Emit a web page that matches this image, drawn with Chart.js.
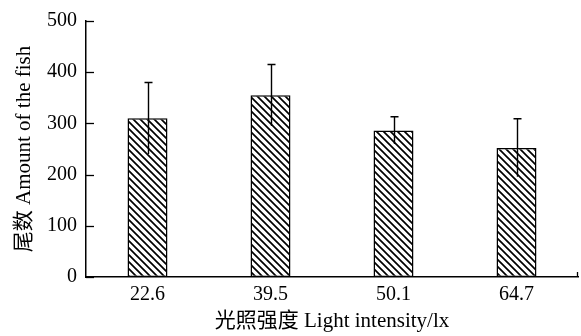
<!DOCTYPE html>
<html>
<head>
<meta charset="utf-8">
<script src="https://cdn.jsdelivr.net/npm/chart.js@4/dist/chart.umd.min.js"></script>
<style>
  html, body { margin: 0; padding: 0; background: #fff; }
  #wrap { width: 581px; height: 336px; }
</style>
</head>
<body>
<div id="wrap"><canvas id="fish"></canvas></div>
<script>
const lightLevels = ["22.6", "39.5", "50.1", "64.7"];
const fishCount = [310, 355, 286, 252];
const errLow = [240, 295, 260, 196];
const errHigh = [380, 415, 313, 309];
const yTicks = [0, 100, 200, 300, 400, 500];

const serif = "'Liberation Serif', 'Times New Roman', 'Noto Sans CJK SC', serif";

// hatch fill: backslash diagonals
function hatch() {
  const c = document.createElement("canvas");
  c.width = 7; c.height = 7;
  const g = c.getContext("2d");
  g.fillStyle = "#fff";
  g.fillRect(0, 0, 7, 7);
  g.strokeStyle = "#000";
  g.lineWidth = 1.7;
  g.beginPath();
  g.moveTo(-1, -1); g.lineTo(8, 8);
  g.moveTo(-1, 6); g.lineTo(1, 8);
  g.moveTo(6, -1); g.lineTo(8, 1);
  g.stroke();
  return g.createPattern(c, "repeat");
}

const extras = {
  id: "extras",
  afterDatasetsDraw(chart) {
    const ctx = chart.ctx;
    const x = chart.scales.x, y = chart.scales.y;
    ctx.save();
    ctx.strokeStyle = "#000";
    ctx.lineWidth = 1.3;
    // inward y ticks
    yTicks.forEach(v => {
      const py = Math.round(y.getPixelForValue(v)) + 0.5;
      ctx.beginPath();
      ctx.moveTo(x.left, py);
      ctx.lineTo(x.left + 8, py);
      ctx.stroke();
    });
    // little tick at right end of x axis
    ctx.beginPath();
    ctx.moveTo(x.right - 0.5, y.bottom);
    ctx.lineTo(x.right - 0.5, y.bottom - 5);
    ctx.stroke();
    // error bars (cap on top only)
    ctx.lineWidth = 1.4;
    lightLevels.forEach((lab, i) => {
      const px = Math.round(x.getPixelForValue(i)) + 0.5;
      const top = y.getPixelForValue(errHigh[i]);
      const bot = y.getPixelForValue(errLow[i]);
      ctx.beginPath();
      ctx.moveTo(px, bot);
      ctx.lineTo(px, top);
      ctx.moveTo(px - 4, top);
      ctx.lineTo(px + 4, top);
      ctx.stroke();
    });
    ctx.restore();
  }
};

new Chart(document.getElementById("fish"), {
  type: "bar",
  data: {
    labels: lightLevels,
    datasets: [{
      data: fishCount,
      backgroundColor: hatch(),
      borderColor: "#000",
      borderWidth: 1.5,
      borderSkipped: false,
      barPercentage: 0.325,
      categoryPercentage: 1
    }]
  },
  options: {
    responsive: true,
    maintainAspectRatio: false,
    animation: false,
    layout: { padding: { top: 19, right: 3, left: 0, bottom: 0 } },
    plugins: { legend: { display: false }, tooltip: { enabled: false } },
    scales: {
      x: {
        grid: { display: false, drawTicks: false },
        border: { color: "#000", width: 1.5 },
        ticks: { color: "#000", padding: 6, font: { family: serif, size: 20 } },
        title: {
          display: true,
          text: "光照强度 Light intensity/lx",
          color: "#000",
          font: { family: serif, size: 21 },
          padding: { top: 0, bottom: 2 }
        },
        afterFit(s) { s.height = 59; }
      },
      y: {
        min: 0, max: 500,
        grid: { display: false, drawTicks: false },
        border: { color: "#000", width: 1.5 },
        afterBuildTicks(s) { s.ticks = yTicks.map(v => ({ value: v })); },
        ticks: { color: "#000", padding: 9, font: { family: serif, size: 20 } },
        title: {
          display: true,
          text: "尾数 Amount of the fish",
          color: "#000",
          font: { family: serif, size: 21 },
          padding: { top: 12, bottom: 0 }
        },
        afterFit(s) { s.width = 86; }
      }
    }
  },
  plugins: [extras]
});
</script>
</body>
</html>
